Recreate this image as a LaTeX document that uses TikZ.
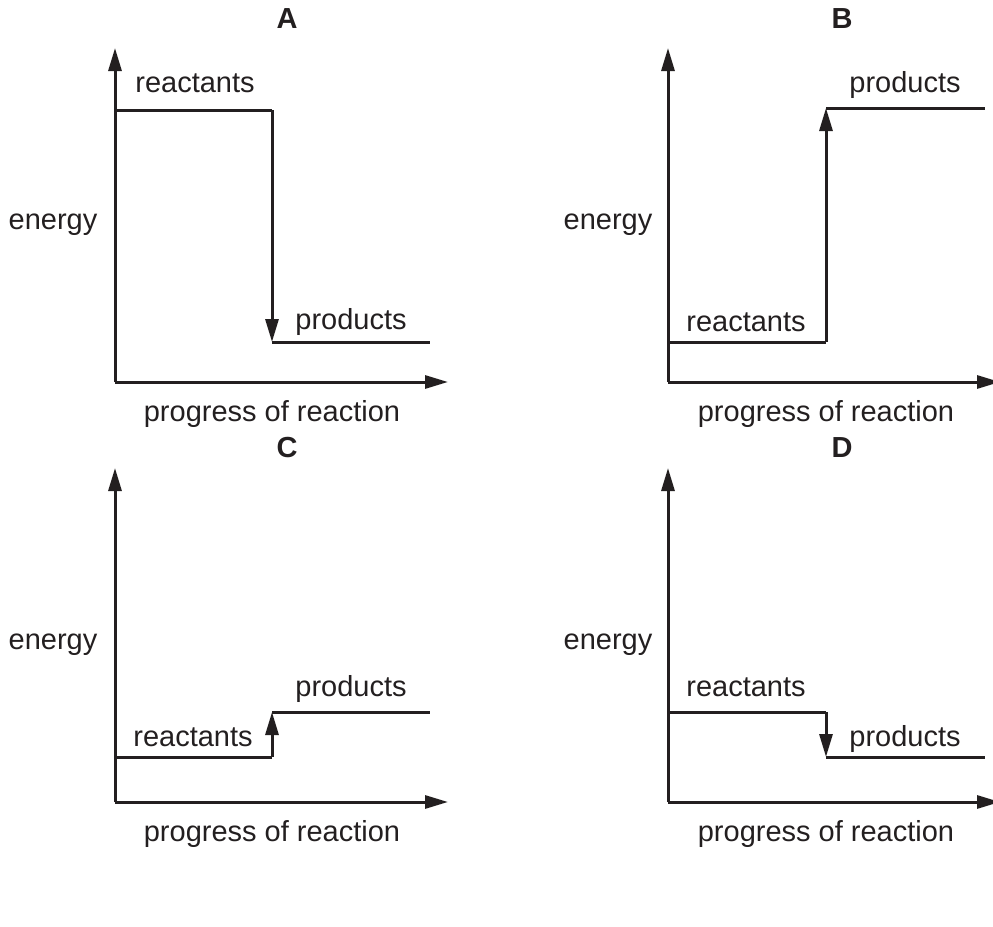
\documentclass[tikz,border=0pt]{standalone}
\usepackage{fontspec}
\setmainfont{Liberation Sans}
\usetikzlibrary{arrows.meta}
\definecolor{ink}{HTML}{231F20}
\begin{document}
\begin{tikzpicture}[x=0.5pt,y=-0.5pt,
  line/.style={line width=1.5pt,color=ink},
  arr/.style={-{Triangle[length=11.5pt,width=6.5pt]}},
  lbl/.style={font=\fontsize{14.5}{17}\selectfont,text=ink,inner sep=0pt,anchor=base},
  ttl/.style={font=\fontsize{14.5}{17}\selectfont\bfseries,text=ink,inner sep=0pt,anchor=base}]
\useasboundingbox (0,0) rectangle (993,927);
% ---------- A ----------
\coordinate (Ao) at (115,382);
\coordinate (Ay) at (115,48);
\coordinate (Ax) at (448,382);
\coordinate (Ar1) at (115,110);
\coordinate (Ar2) at (272,110);
\coordinate (Ap1) at (272,342);
\coordinate (Ap2) at (430,342);
\draw[arr,line] (Ao) -- (Ay);
\draw[arr,line] (Ao) -- (Ax);
\draw[line] (Ar1) -- (Ar2);
\draw[arr,line] (Ar2) -- (Ap1);
\draw[line] (Ap1) -- (Ap2);
\node[ttl] (At) at (287,28) {A};
\node[lbl] (Ae) at (53,229) {energy};
\node[lbl] (Ap) at (272,421) {progress of reaction};
\node[lbl] (Arl) at (195,92) {reactants};
\node[lbl] (Apl) at (351,329) {products};
% ---------- B ----------
\coordinate (Bo) at (668,382);
\coordinate (By) at (668,48);
\coordinate (Bx) at (1000,382);
\coordinate (Br1) at (668,342);
\coordinate (Br2) at (826,342);
\coordinate (Bp1) at (826,108);
\coordinate (Bp2) at (985,108);
\draw[arr,line] (Bo) -- (By);
\draw[arr,line] (Bo) -- (Bx);
\draw[line] (Br1) -- (Br2);
\draw[arr,line] (Br2) -- (Bp1);
\draw[line] (Bp1) -- (Bp2);
\node[ttl] (Bt) at (842,28) {B};
\node[lbl] (Be) at (608,229) {energy};
\node[lbl] (Bp) at (826,421) {progress of reaction};
\node[lbl] (Bpl) at (905,92) {products};
\node[lbl] (Brl) at (746,331) {reactants};
% ---------- C ----------
\coordinate (Co) at (115,802);
\coordinate (Cy) at (115,468);
\coordinate (Cx) at (448,802);
\coordinate (Cr1) at (115,757);
\coordinate (Cr2) at (272,757);
\coordinate (Cp1) at (272,712);
\coordinate (Cp2) at (430,712);
\draw[arr,line] (Co) -- (Cy);
\draw[arr,line] (Co) -- (Cx);
\draw[line] (Cr1) -- (Cr2);
\draw[arr,line] (Cr2) -- (Cp1);
\draw[line] (Cp1) -- (Cp2);
\node[ttl] (Ct) at (287,457) {C};
\node[lbl] (Ce) at (53,649) {energy};
\node[lbl] (Cp) at (272,841) {progress of reaction};
\node[lbl] (Cpl) at (351,696) {products};
\node[lbl] (Crl) at (193,746) {reactants};
% ---------- D ----------
\coordinate (Do) at (668,802);
\coordinate (Dy) at (668,468);
\coordinate (Dx) at (1000,802);
\coordinate (Dr1) at (668,712);
\coordinate (Dr2) at (826,712);
\coordinate (Dp1) at (826,757);
\coordinate (Dp2) at (985,757);
\draw[arr,line] (Do) -- (Dy);
\draw[arr,line] (Do) -- (Dx);
\draw[line] (Dr1) -- (Dr2);
\draw[arr,line] (Dr2) -- (Dp1);
\draw[line] (Dp1) -- (Dp2);
\node[ttl] (Dt) at (842,457) {D};
\node[lbl] (De) at (608,649) {energy};
\node[lbl] (Dp) at (826,841) {progress of reaction};
\node[lbl] (Drl) at (746,696) {reactants};
\node[lbl] (Dpl) at (905,746) {products};
\end{tikzpicture}
\end{document}
